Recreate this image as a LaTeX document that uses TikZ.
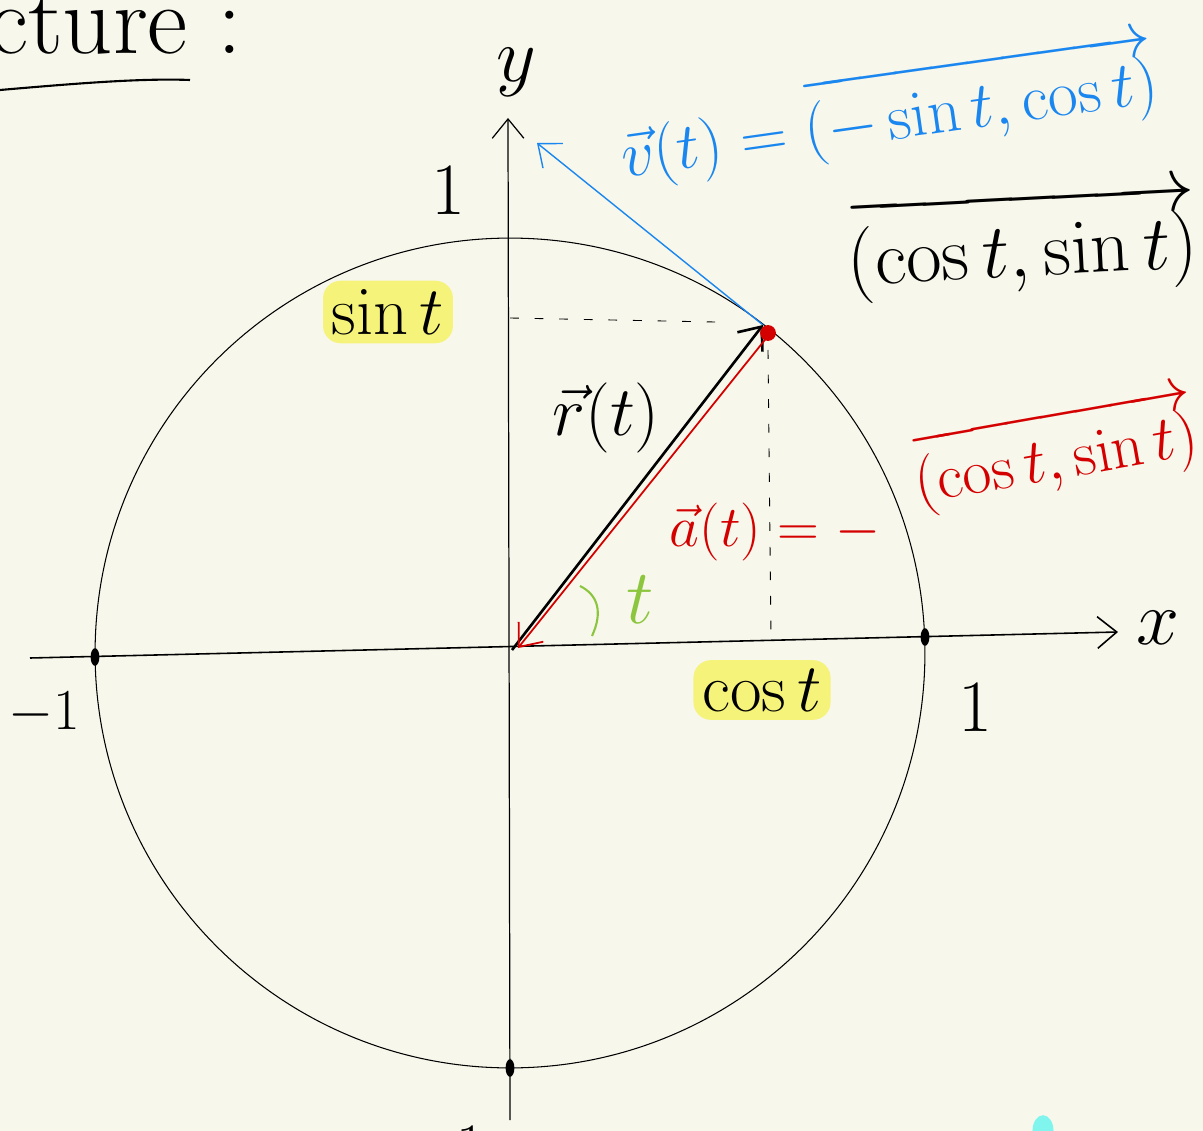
\RequirePackage{fix-cm}
\documentclass[tikz,border=0pt]{standalone}
\usepackage{amsmath}
\usepackage{xcolor}
\usetikzlibrary{arrows.meta,calc,positioning}
\definecolor{paper}{HTML}{F8F7EB}
\definecolor{penblue}{HTML}{1A86F0}
\definecolor{penred}{HTML}{D40000}
\definecolor{pengreen}{HTML}{8CC63F}
\definecolor{marker}{HTML}{F5F37A}
\definecolor{blob}{HTML}{7FF5EE}

\begin{document}
\begin{tikzpicture}[
    x=0.02cm,y=-0.02cm,
    >={Straight Barb[length=11pt,width=18pt]},
    txt/.style={font=\fontsize{#1}{#1}\selectfont,inner sep=1pt},
    axis/.style={->,line width=0.9pt},
    ink/.style={line width=0.6pt},
    guide/.style={line width=0.5pt,dash pattern=on 5pt off 9pt},
    hl/.style={fill=marker,rounded corners=10pt,inner sep=5pt},
    vecr/.style={->,line width=1.5pt},
    veca/.style={->,penred,line width=1pt},
    vecv/.style={->,penblue,line width=0.8pt}
]
% page, drawn in pixel units of the sketch
\fill[paper] (0,0) rectangle (1203,1131);
\useasboundingbox (0,0) rectangle (1203,1131);

% heading left over from the notes
\node[txt=56,anchor=base west] (head) at (-14,54) {cture :};
\draw[line width=1.2pt] (0,90) .. controls (70,84) and (140,78) .. (190,80);

% key points
\coordinate (O)    at (512,650);
\coordinate (C)    at (510,653);
\coordinate (P)    at (763,325);
\coordinate (Pa)   at (768,336);
\coordinate (Oa)   at (518,648);
\coordinate (Vtip) at (537,143);
\coordinate (xl)   at (30,658);
\coordinate (xr)   at (1118,632);
\coordinate (yb)   at (510,1120);
\coordinate (yt)   at (508,118);

% axes and unit circle
\draw[axis] (xl) -- (xr);
\draw[axis,line width=0.7pt] (yb) -- (yt);
\draw[ink] (C) circle[radius=8.3cm];
\foreach \p in {(95,657),(925,637),(510,1068)}
  \fill \p ellipse[x radius=2.5pt,y radius=5pt];
\node[txt=44] (xlab) at (1158,628) {$x$};
\node[txt=44] (ylab) at (516,72) {$y$};
\node[txt=42] (one1) at (448,190) {1};
\node[txt=42] (one2) at (975,707) {1};
\node[txt=33] (mone1) at (44,713) {$-1$};
\node[txt=36] (mone2) at (446,1150) {$-1$};

% projections of the point
\draw[guide] (510,318) -- (715,322);
\draw[guide] (768,350) -- (771,640);
\node[txt=39,hl] (sinlab) at (388,312) {$\sin t$};
\node[txt=39,hl] (coslab) at (762,690) {$\cos t$};

% position, acceleration, velocity
\draw[vecv] (P) -- (Vtip);
\draw[vecr] (O) -- (P);
\draw[veca] (Pa) -- (Oa);
\fill[penred] (768,333) circle[radius=4.5pt];
\node[txt=40] (rlab) at (606,418) {$\vec r(t)$};

% angle
\draw[pengreen,line width=1.2pt] (592,636) .. controls (603,612) and (598,595) .. (580,586);
\node[txt=44,pengreen] (tlab) at (640,600) {$t$};

% formulas
\node[txt=37,penblue,rotate=8] (vlab) at (888,112) {$\vec v(t)=\overrightarrow{(-\sin t,\cos t)}$};
\node[txt=44,rotate=3] (plab) at (1022,243) {$\overrightarrow{(\cos t,\sin t)}$};
\node[txt=33,penred] (alab) at (775,532) {$\vec a(t)=-$};
\node[txt=36,penred,rotate=10] (aclab) at (1055,452) {$\overrightarrow{(\cos t,\sin t)}$};

% stray marker dot
\fill[blob] (1043,1131) ellipse[x radius=6pt,y radius=9pt];
\end{tikzpicture}
\end{document}
